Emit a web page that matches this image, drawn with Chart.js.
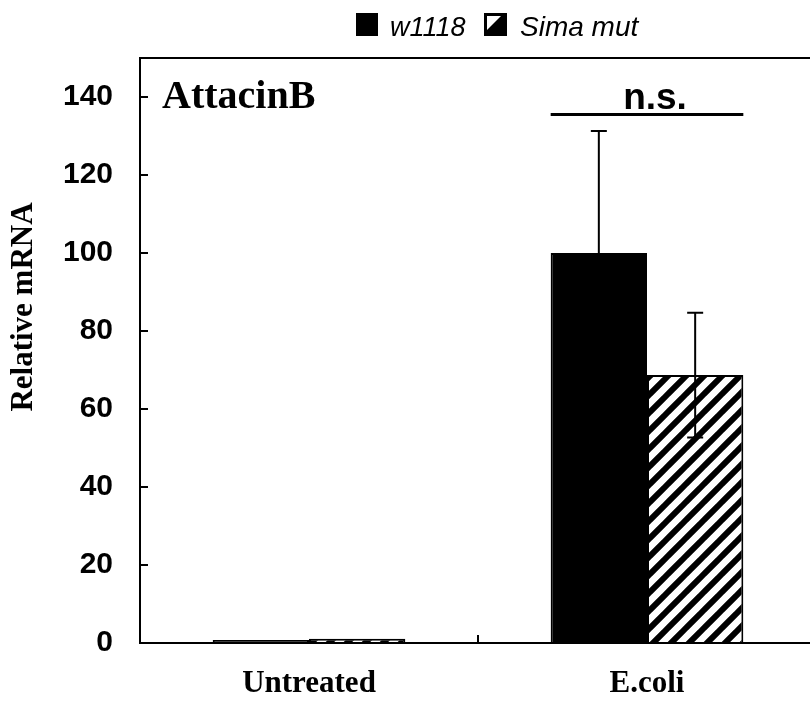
<!DOCTYPE html>
<html>
<head>
<meta charset="utf-8">
<script src="https://cdn.jsdelivr.net/npm/chart.js@4"></script>
<style>
  html, body { margin: 0; padding: 0; overflow: hidden; background: #fff; }
  #wrap { position: absolute; left: 0; top: 0; width: 820px; height: 702px; }
</style>
</head>
<body>
<div id="wrap"><canvas id="chart"></canvas></div>
<script>
// data
const categories = ["Untreated", "E.coli"];
const seriesNames = ["w1118", "Sima mut"];
const w1118 = [0.8, 100];
const simaMut = [1.1, 68.7];
const w1118Err = [0.1, 31.3];
const simaErr = [0.1, 16];
const yTicks = [0, 20, 40, 60, 80, 100, 120, 140];
const yMax = 150;
const panelTitle = "AttacinB";
const yTitle = "Relative mRNA";
const sigLabel = "n.s.";
const sigLevel = 135.5;

const SANS = "'Liberation Sans', Arial, sans-serif";
const SERIF = "'Liberation Serif', 'Times New Roman', serif";

// diagonal hatch fill
function makeHatch() {
  const s = 18;
  const c = document.createElement("canvas");
  c.width = s; c.height = s;
  const g = c.getContext("2d");
  g.fillStyle = "#fff";
  g.fillRect(0, 0, s, s);
  g.strokeStyle = "#000";
  g.lineWidth = 6;
  g.lineCap = "square";
  g.beginPath();
  [-s, 0, s].forEach(k => {
    g.moveTo(k - 2, s + 2);
    g.lineTo(k + s + 2, -2);
  });
  g.stroke();
  return g.createPattern(c, "repeat");
}

const errs = [w1118Err, simaErr];

const errorBars = {
  id: "errorBars",
  afterDatasetsDraw(chart) {
    const { ctx, scales: { y } } = chart;
    ctx.save();
    ctx.strokeStyle = "#000";
    ctx.lineWidth = 2;
    errs.forEach((e, di) => {
      const meta = chart.getDatasetMeta(di);
      meta.data.forEach((bar, i) => {
        if (e[i] < 1) return; // too small to show
        const v = chart.data.datasets[di].data[i];
        const top = y.getPixelForValue(v + e[i]);
        const bot = y.getPixelForValue(v - e[i]);
        ctx.beginPath();
        ctx.moveTo(bar.x, top); ctx.lineTo(bar.x, bot);
        ctx.moveTo(bar.x - 8, top); ctx.lineTo(bar.x + 8, top);
        ctx.moveTo(bar.x - 8, bot); ctx.lineTo(bar.x + 8, bot);
        ctx.stroke();
      });
    });
    ctx.restore();
  }
};

const decorations = {
  id: "decorations",
  afterDraw(chart) {
    const { ctx, chartArea: a, scales: { x, y } } = chart;
    ctx.save();
    ctx.strokeStyle = "#000";
    ctx.fillStyle = "#000";

    // frame: left, top, bottom
    ctx.lineWidth = 2;
    ctx.beginPath();
    ctx.moveTo(a.right + 10, a.top); ctx.lineTo(a.left, a.top);
    ctx.lineTo(a.left, a.bottom); ctx.lineTo(a.right + 10, a.bottom);
    ctx.stroke();

    // inward y ticks
    yTicks.forEach(t => {
      const py = y.getPixelForValue(t);
      ctx.beginPath();
      ctx.moveTo(a.left, py); ctx.lineTo(a.left + 8, py);
      ctx.stroke();
    });
    // category divider tick
    const mid = (x.getPixelForValue(0) + x.getPixelForValue(1)) / 2;
    ctx.beginPath();
    ctx.moveTo(mid, a.bottom); ctx.lineTo(mid, a.bottom - 8);
    ctx.stroke();

    // panel title
    ctx.font = "bold 40px " + SERIF;
    ctx.textAlign = "left";
    ctx.textBaseline = "alphabetic";
    ctx.fillText(panelTitle, a.left + 22, 108);

    // y title
    ctx.save();
    ctx.translate(32, 307);
    ctx.rotate(-Math.PI / 2);
    ctx.font = "bold 31px " + SERIF;
    ctx.textAlign = "center";
    ctx.fillText(yTitle, 0, 0);
    ctx.restore();

    // significance bar over E.coli group
    const b0 = chart.getDatasetMeta(0).data[1];
    const b1 = chart.getDatasetMeta(1).data[1];
    const x0 = b0.x - b0.width / 2, x1 = b1.x + b1.width / 2;
    const sy = y.getPixelForValue(sigLevel);
    ctx.lineWidth = 3;
    ctx.beginPath();
    ctx.moveTo(x0, sy); ctx.lineTo(x1, sy);
    ctx.stroke();
    ctx.font = "bold 37px " + SANS;
    ctx.textAlign = "center";
    ctx.fillText(sigLabel, (x0 + x1) / 2 + 8, sy - 6);

    // legend
    ctx.fillRect(356, 13, 22, 23);
    ctx.font = "italic 27px " + SANS;
    ctx.textAlign = "left";
    ctx.fillText(seriesNames[0], 390, 36);
    ctx.fillRect(484, 13, 23, 23);
    ctx.fillStyle = "#fff";
    ctx.beginPath();
    ctx.moveTo(487, 16); ctx.lineTo(501, 16); ctx.lineTo(487, 30);
    ctx.closePath();
    ctx.fill();
    ctx.fillStyle = "#000";
    ctx.font = "italic 28px " + SANS;
    ctx.fillText(seriesNames[1], 520, 36);

    ctx.restore();
  }
};

new Chart(document.getElementById("chart"), {
  type: "bar",
  data: {
    labels: categories,
    datasets: [
      {
        label: seriesNames[0],
        data: w1118,
        backgroundColor: "#000",
        borderColor: "#000",
        borderWidth: 2
      },
      {
        label: seriesNames[1],
        data: simaMut,
        backgroundColor: makeHatch(),
        borderColor: "#000",
        borderWidth: 2
      }
    ]
  },
  options: {
    responsive: true,
    maintainAspectRatio: false,
    animation: false,
    layout: { padding: { top: 58, right: 4, left: 0, bottom: 0 } },
    plugins: { legend: { display: false }, tooltip: { enabled: false } },
    datasets: { bar: { categoryPercentage: 0.57, barPercentage: 1.0 } },
    scales: {
      x: {
        grid: { display: false, drawTicks: false },
        border: { display: false },
        ticks: {
          color: "#000",
          padding: 22,
          font: { family: SERIF, size: 31, weight: "bold" }
        },
        afterFit(s) { s.height = 59; }
      },
      y: {
        min: 0,
        max: yMax,
        grid: { display: false, drawTicks: false },
        border: { display: false },
        afterBuildTicks(s) { s.ticks = yTicks.map(v => ({ value: v })); },
        ticks: {
          color: "#000",
          padding: 27,
          font: { family: SANS, size: 30, weight: "bold" }
        },
        afterFit(s) { s.width = 140; }
      }
    }
  },
  plugins: [errorBars, decorations]
});
</script>
</body>
</html>
